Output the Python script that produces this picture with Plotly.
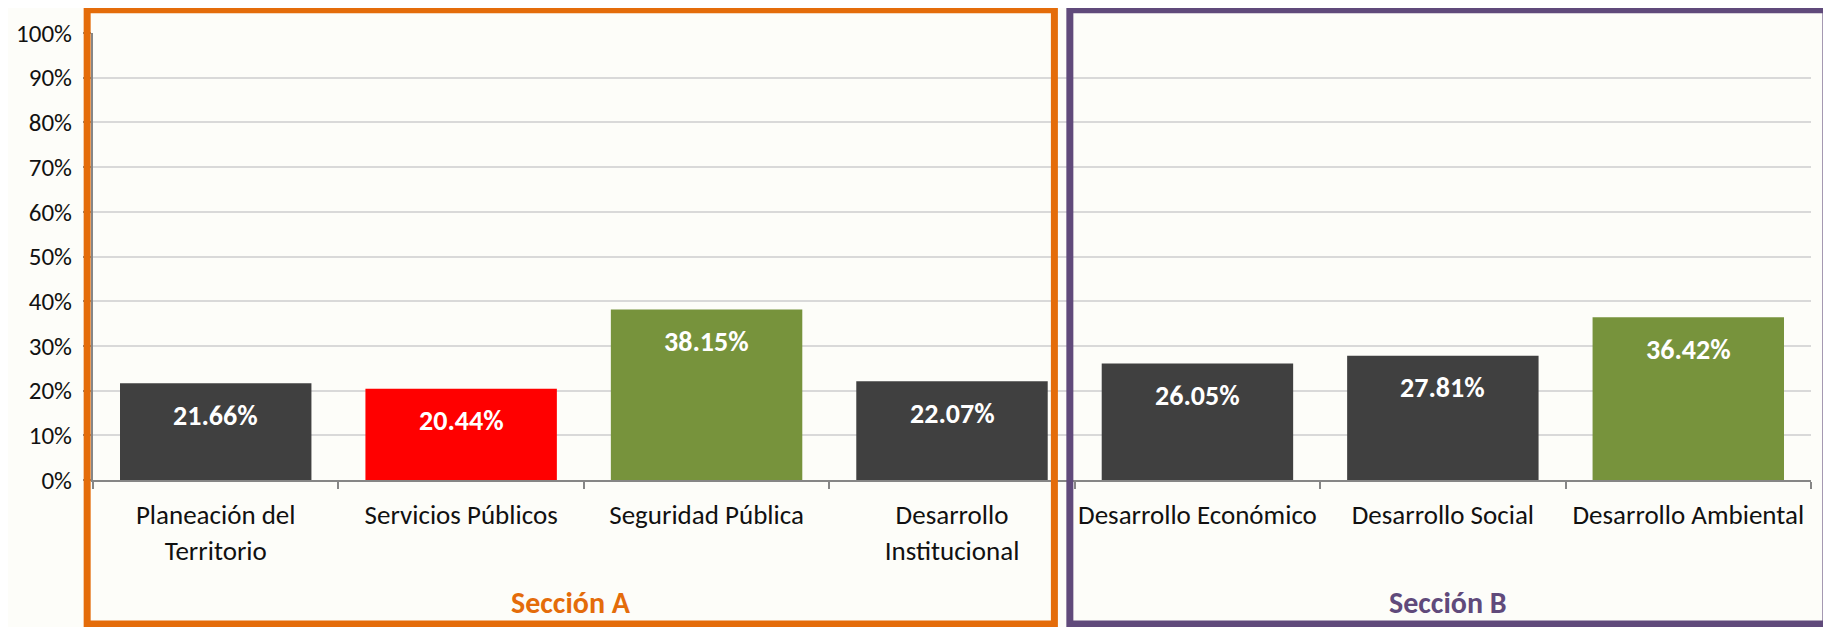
import plotly.graph_objects as go

categories = ["Planeación del<br>Territorio", "Servicios Públicos", "Seguridad Pública",
              "Desarrollo<br>Institucional", "Desarrollo Económico", "Desarrollo Social",
              "Desarrollo Ambiental"]
values = [0.2166, 0.2044, 0.3815, 0.2207, 0.2605, 0.2781, 0.3642]
bar_colors = ["#404040", "#FF0000", "#77933C", "#404040", "#404040", "#404040", "#77933C"]
sections = ["Sección A", "Sección B"]
section_colors = ["#E46C0A", "#604A7B"]

FONT = "Carlito, Lato, 'Open Sans', sans-serif"
BG = "#FDFDF9"

fig = go.Figure()
fig.add_trace(go.Bar(
    x=categories, y=values,
    marker=dict(color=bar_colors, line=dict(width=0)),
    width=0.78,
    hoverinfo="skip",
))

for c, v in zip(categories, values):
    fig.add_annotation(x=c, y=v, yshift=-32, text=f"<b>{v*100:.2f}%</b>",
                       showarrow=False, xref="x", yref="y", yanchor="middle",
                       xanchor="center",
                       font=dict(family=FONT, size=28, color="white"))

# section boxes
boxes = [(-0.0034, 0.5596), (0.5686, 1.0087)]
for (x0, x1), name, col in zip(boxes, sections, section_colors):
    fig.add_shape(type="rect", xref="paper", yref="paper", x0=x0, x1=x1,
                  y0=-0.322, y1=1.052, line=dict(color=col, width=7), layer="above")
    fig.add_annotation(x=(x0 + x1) / 2, y=-0.275, xref="paper", yref="paper",
                       text=f"<b>{name}</b>", showarrow=False, yanchor="middle",
                       xanchor="center",
                       font=dict(family=FONT, size=30, color=col))

fig.update_layout(
    width=1823, height=619,
    margin=dict(l=85, r=20, t=25, b=147, autoexpand=False),
    paper_bgcolor=BG, plot_bgcolor=BG,
    showlegend=False,
    bargap=0.22,
)
fig.update_xaxes(
    automargin=False, tickangle=0,
    showline=True, linecolor="#868686", linewidth=2,
    ticks="outside", tickson="boundaries", ticklen=7, tickcolor="#868686", tickwidth=2,
    tickfont=dict(family=FONT, size=27, color="#111111"),
    ticklabelstandoff=10,
    showgrid=False,
)
fig.update_yaxes(
    automargin=False,
    range=[0, 1], dtick=0.1, tickformat=".0%",
    showline=True, linecolor="#868686", linewidth=2,
    ticks="outside", ticklen=8, tickcolor="#868686", tickwidth=2,
    tickfont=dict(family=FONT, size=25, color="#111111"),
    ticklabelstandoff=6,
    showgrid=True, gridcolor="#D9D9D9", gridwidth=2,
    zeroline=False,
)

fig.write_html("out.html")
